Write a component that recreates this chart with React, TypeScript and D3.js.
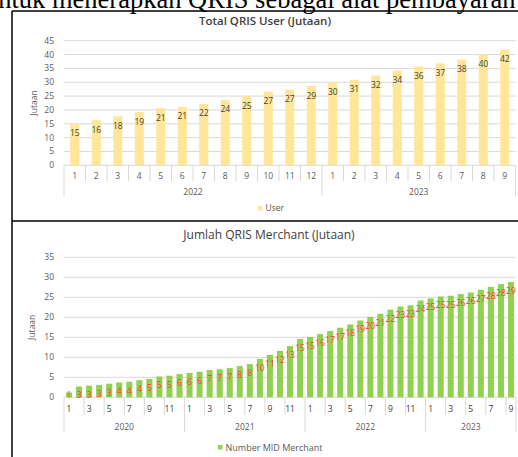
import * as d3 from 'd3'

// Top chart: Total QRIS User (Jutaan), Jan 2022 - Sep 2023
const userMonths = ['1', '2', '3', '4', '5', '6', '7', '8', '9', '10', '11', '12', '1', '2', '3', '4', '5', '6', '7', '8', '9']
const userYears = ['2022', '2023']
const userYearCounts = [12, 9]
const userValues = [15.0, 16.3, 17.7, 19.2, 20.6, 21.1, 22.2, 23.6, 25.0, 26.6, 27.3, 28.6, 29.9, 30.9, 32.4, 34.2, 35.7, 36.8, 38.2, 40.0, 41.8]
const userTicks = [0, 5, 10, 15, 20, 25, 30, 35, 40, 45]

// Bottom chart: Jumlah QRIS Merchant (Jutaan), Jan 2020 - Sep 2023
const merchantYears = ['2020', '2021', '2022', '2023']
const merchantYearCounts = [12, 12, 12, 9]
const merchantValues = [
  1.2, 2.7, 2.9, 3.1, 3.4, 3.7, 3.9, 4.3, 4.6, 5.2, 5.4, 5.8,
  6.1, 6.4, 6.8, 7.0, 7.3, 7.8, 8.3, 9.6, 10.6, 11.6, 12.8, 14.6,
  15.1, 15.8, 16.6, 17.4, 18.2, 19.2, 20.1, 20.9, 21.9, 22.7, 23.0, 24.2,
  24.7, 25.2, 25.4, 25.8, 26.2, 26.9, 27.6, 28.3, 28.8,
]
const merchantTicks = [0, 5, 10, 15, 20, 25, 30, 35]

const FONT = '"Open Sans", "Liberation Sans", sans-serif'
const AXIS_COLOR = '#595959'
const GRID = '#d9d9d9'

function yearStarts(counts: number[]) {
  const out: number[] = []
  let acc = 0
  counts.forEach(c => {
    out.push(acc)
    acc += c
  })
  return out
}

function UserChart() {
  const x = d3.scaleBand<number>()
    .domain(d3.range(userValues.length))
    .range([64, 515.5])
    .paddingInner(0.58)
    .paddingOuter(0.29)
  const y = d3.scaleLinear().domain([0, 45]).range([165.3, 40.7])
  const step = x.step()
  const x0 = x.range()[0]
  const starts = yearStarts(userYearCounts)
  const yearBounds = [...starts, userValues.length]

  return (
    <g fontFamily={FONT}>
      <text x={265} y={25} textAnchor="middle" fontSize={11.5} fontWeight={600} fill="#404040">
        Total QRIS User (Jutaan)
      </text>
      {userTicks.map(t => (
        <g key={t}>
          <line x1={64} x2={515.5} y1={y(t)} y2={y(t)} stroke={GRID} strokeWidth={1} />
          <text x={54} y={y(t)} dy="0.35em" textAnchor="end" fontSize={8.5} fill={AXIS_COLOR}>{t}</text>
        </g>
      ))}
      <text transform={`translate(37,${(y(0) + y(45)) / 2}) rotate(-90)`} textAnchor="middle" fontSize={8.5} fill={AXIS_COLOR}>
        Jutaan
      </text>
      {userValues.map((v, i) => (
        <g key={i}>
          <rect x={x(i)} y={y(v)} width={x.bandwidth()} height={y(0) - y(v)} fill="#FFE699" />
          <text x={x(i)! + x.bandwidth() / 2} y={y(v) + 9.5} dy="0.35em" textAnchor="middle" fontSize={8.5} fill="#404040">
            {Math.round(v)}
          </text>
          <text x={x(i)! + x.bandwidth() / 2} y={176} dy="0.35em" textAnchor="middle" fontSize={8.5} fill={AXIS_COLOR}>
            {userMonths[i]}
          </text>
        </g>
      ))}
      {d3.range(userValues.length + 1).map(i => {
        const isYear = yearBounds.includes(i)
        return (
          <line key={i} x1={x0 + i * step} x2={x0 + i * step} y1={y(0)} y2={isYear ? 196 : 181} stroke={GRID} strokeWidth={1} />
        )
      })}
      {userYears.map((yr, k) => {
        const cx = x0 + (starts[k] + userYearCounts[k] / 2) * step
        return (
          <text key={yr} x={cx} y={192} dy="0.35em" textAnchor="middle" fontSize={8.5} fill={AXIS_COLOR}>{yr}</text>
        )
      })}
      <rect x={258} y={206} width={4.5} height={4.5} fill="#FFE699" />
      <text x={265.5} y={208.5} dy="0.35em" fontSize={8.5} fill={AXIS_COLOR}>User</text>
    </g>
  )
}

function MerchantChart() {
  const x = d3.scaleBand<number>()
    .domain(d3.range(merchantValues.length))
    .range([64, 516])
    .paddingInner(0.4)
    .paddingOuter(0.2)
  const y = d3.scaleLinear().domain([0, 35]).range([397.3, 257.3])
  const step = x.step()
  const x0 = x.range()[0]
  const starts = yearStarts(merchantYearCounts)
  const yearBounds = [...starts, merchantValues.length]
  // month number of each bar
  const monthOf = merchantValues.map((_, i) => {
    const k = d3.bisectRight(starts, i) - 1
    return i - starts[k] + 1
  })
  // separators every two months inside each year
  const seps: number[] = []
  starts.forEach((s, k) => {
    for (let m = 0; m <= merchantYearCounts[k]; m += 2) seps.push(s + m)
  })
  seps.push(merchantValues.length)

  return (
    <g fontFamily={FONT}>
      <text x={269} y={239} textAnchor="middle" fontSize={12} fill="#404040">
        Jumlah QRIS Merchant (Jutaan)
      </text>
      {merchantTicks.map(t => (
        <g key={t}>
          <line x1={64} x2={516} y1={y(t)} y2={y(t)} stroke={GRID} strokeWidth={1} />
          <text x={54} y={y(t)} dy="0.35em" textAnchor="end" fontSize={8.5} fill={AXIS_COLOR}>{t}</text>
        </g>
      ))}
      <text transform={`translate(35,${(y(0) + y(35)) / 2}) rotate(-90)`} textAnchor="middle" fontSize={8.5} fill={AXIS_COLOR}>
        Jutaan
      </text>
      {merchantValues.map((v, i) => (
        <rect key={i} x={x(i)} y={y(v)} width={x.bandwidth()} height={y(0) - y(v)} fill="#92D050" />
      ))}
      {merchantValues.map((v, i) => (
        <text key={i} x={x(i)! + x.bandwidth() / 2} y={Math.min(y(v) + 9, 395)} dy="0.35em" textAnchor="middle" fontSize={8.5} fill="#FF3B3B">
          {Math.round(v)}
        </text>
      ))}
      {merchantValues.map((_, i) =>
        monthOf[i] % 2 === 1 ? (
          <text key={i} x={x(i)! + x.bandwidth() / 2} y={409} dy="0.35em" textAnchor="middle" fontSize={8.5} fill="#404040">
            {monthOf[i]}
          </text>
        ) : null
      )}
      {Array.from(new Set(seps)).map(i => {
        const isYear = yearBounds.includes(i)
        return (
          <line key={i} x1={x0 + i * step} x2={x0 + i * step} y1={y(0)} y2={isYear ? 432 : 415} stroke={GRID} strokeWidth={1} />
        )
      })}
      {merchantYears.map((yr, k) => {
        const cx = x0 + (starts[k] + merchantYearCounts[k] / 2) * step
        return (
          <text key={yr} x={cx} y={427} dy="0.35em" textAnchor="middle" fontSize={8.5} fill={AXIS_COLOR}>{yr}</text>
        )
      })}
      <rect x={218} y={445} width={4.5} height={4.5} fill="#92D050" />
      <text x={225.5} y={447.5} dy="0.35em" fontSize={9} fill={AXIS_COLOR}>Number MID Merchant</text>
    </g>
  )
}

export default function App() {
  return (
    <svg
      width={518}
      height={457}
      style={{ position: 'absolute', left: 0, top: 0, background: '#fff' }}
    >
      <rect width={518} height={457} fill="#fff" />
      <text x={-15} y={8} fontFamily='"Liberation Serif", "Times New Roman", serif' fontSize={26.5} fill="#000">
        untuk menerapkan QRIS sebagai alat pembayaran
      </text>
      <line x1={12} x2={518} y1={11} y2={11} stroke="#000" strokeWidth={1.5} />
      <line x1={12} x2={518} y1={221} y2={221} stroke="#000" strokeWidth={1.5} />
      <line x1={12} x2={12} y1={11} y2={457} stroke="#000" strokeWidth={1.5} />
      <UserChart />
      <MerchantChart />
    </svg>
  )
}
